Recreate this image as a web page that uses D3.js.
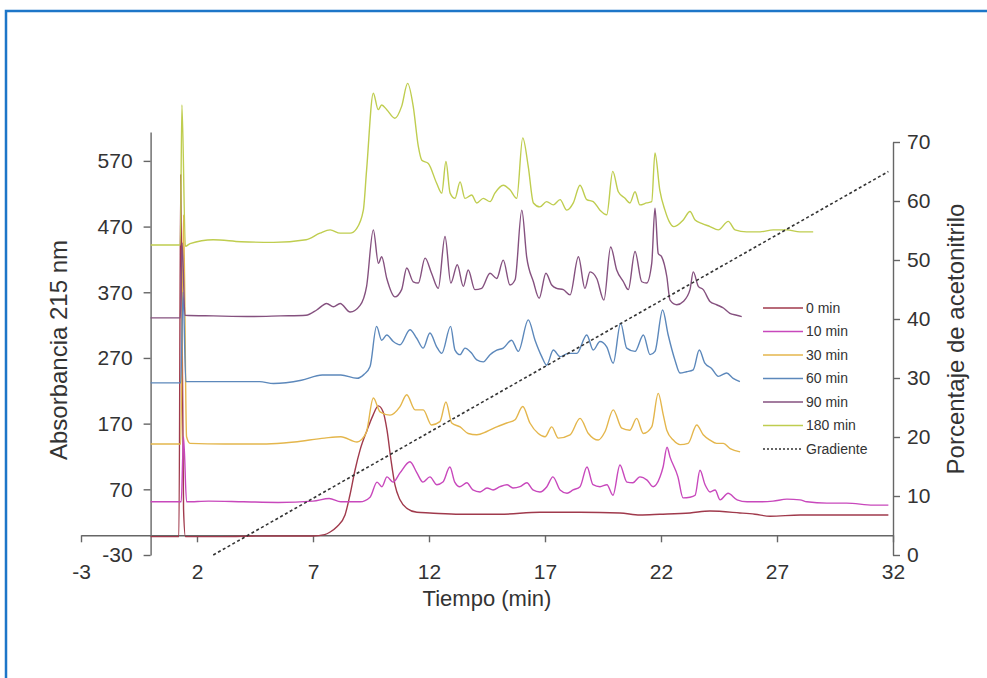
<!DOCTYPE html>
<html>
<head>
<meta charset="utf-8">
<script src="https://cdn.jsdelivr.net/npm/d3@7"></script>
<style>
  body { margin: 0; background: #fff; }
  svg text { font-family: "Liberation Sans", Arial, sans-serif; fill: #333; }
  .axis path, .axis line { stroke: #666; stroke-width: 1.4; }
</style>
</head>
<body>
<div id="chart"></div>
<script>
"use strict";

// tick values
let timeTicks = [-3, 2, 7, 12, 17, 22, 27, 32];
let absTicks = [-30, 70, 170, 270, 370, 470, 570];
let pctTicks = [0, 10, 20, 30, 40, 50, 60, 70];

let seriesNames = ['0 min', '10 min', '30 min', '60 min', '90 min', '180 min'];
let seriesColors = ['#a03a4c', '#c848bc', '#e4b64c', '#5c88bb', '#85517f', '#bfcd4f'];

// chromatograms, [time (min), absorbance]
let trace0 = [[0,-2],[1.22,-2],[1.3,549],[1.42,40],[1.5,-2],[3,-2],[5,-1],[7,-1],[7.5,1],[7.74,5],[8.03,13],[8.38,31],[8.59,61],[8.81,99],[9.03,130],[9.33,160],[9.59,183],[9.81,197],[10.02,188],[10.19,160],[10.36,115],[10.53,77],[10.75,54],[11.05,41],[11.48,35],[12.04,34],[13.33,32],[15.06,32],[16.78,35],[18.51,35],[20.23,34],[21.09,31],[21.95,32],[23.25,34],[24.11,37],[25.4,34],[26.05,32],[26.7,29],[28,31],[29.7,31],[31.8,31]];

let trace10 = [[0,51],[1.32,51],[1.42,150],[1.55,51],[2.5,52],[4,51],[5.5,50],[7,52],[7.7,56],[8.2,51],[9.03,51],[9.46,58],[9.76,81],[9.97,74],[10.19,89],[10.45,81],[10.75,95],[11.18,112],[11.48,95],[11.74,81],[12.04,89],[12.34,77],[12.6,81],[12.9,104],[13.11,81],[13.33,74],[13.63,80],[13.89,69],[14.2,66],[14.5,72],[14.76,69],[15.06,74],[15.36,77],[15.62,72],[15.92,74],[16.22,80],[16.48,69],[16.78,66],[17.08,74],[17.34,89],[17.65,69],[17.95,64],[18.21,69],[18.51,74],[18.81,104],[19.07,77],[19.37,74],[19.67,77],[19.93,61],[20.23,107],[20.53,81],[20.79,80],[21.09,89],[21.4,84],[21.66,74],[21.96,89],[22.09,104],[22.26,134],[22.39,119],[22.73,89],[22.95,57],[23.25,58],[23.47,61],[23.68,99],[23.9,77],[24.12,66],[24.33,69],[24.55,54],[24.89,64],[25.28,54],[25.71,51],[26.27,51],[26.83,52],[27.43,55],[27.99,54],[28.29,51],[29.15,49],[30,49],[31.15,46],[31.8,46]];

let trace30 = [[0,139],[1.3,139],[1.42,488],[1.55,150],[1.7,140],[3.2,139],[5,139],[6.2,142],[7.5,148],[8.2,150],[8.9,142],[9.1,146],[9.31,158],[9.6,209],[9.89,188],[10.32,183],[10.75,196],[11.04,214],[11.4,191],[11.75,191],[12.11,168],[12.47,173],[12.73,203],[12.98,171],[13.34,165],[13.69,155],[14.06,153],[14.49,158],[14.92,165],[15.35,171],[15.71,176],[16.04,196],[16.35,171],[16.71,155],[17,150],[17.29,165],[17.57,148],[18.08,153],[18.51,178],[18.87,155],[19.3,145],[19.59,158],[19.94,191],[20.31,163],[20.66,160],[20.95,178],[21.24,155],[21.6,165],[21.88,216],[22.1,183],[22.25,160],[22.53,145],[22.82,138],[23.17,140],[23.54,168],[23.82,153],[24.11,145],[24.4,140],[24.69,140],[24.98,132],[25.41,127]];

let trace60 = [[0,232],[1.3,232],[1.4,370],[1.52,234],[2.7,234],[4.7,234],[5.3,231],[6.5,236],[7.4,244],[8.2,244],[8.9,239],[9.2,245],[9.46,257],[9.74,318],[9.96,297],[10.18,305],[10.46,295],[10.75,290],[11.18,313],[11.47,300],[11.75,285],[12.04,308],[12.33,287],[12.55,277],[12.93,318],[13.12,282],[13.34,275],[13.55,285],[13.84,277],[14.06,267],[14.34,264],[14.63,275],[14.92,282],[15.2,285],[15.56,297],[15.85,280],[16.28,328],[16.57,297],[16.86,272],[17.07,259],[17.36,282],[17.65,272],[18,277],[18.37,277],[18.8,305],[19.08,282],[19.37,295],[19.66,287],[19.94,262],[20.26,323],[20.52,285],[20.88,280],[21.24,305],[21.53,275],[21.74,280],[22.07,343],[22.31,305],[22.6,267],[22.82,247],[23.1,249],[23.39,252],[23.65,282],[23.89,262],[24.18,254],[24.47,242],[24.83,247],[25.11,239],[25.4,234]];

let trace90 = [[0,331],[1.28,331],[1.36,445],[1.48,335],[2.7,334],[4.4,333],[5.6,334],[6.7,335],[7.16,343],[7.59,353],[7.88,348],[8.17,353],[8.6,340],[9.03,350],[9.31,379],[9.6,465],[9.82,414],[9.96,424],[10.18,391],[10.53,363],[10.82,374],[11.04,407],[11.32,386],[11.54,384],[11.83,422],[12.11,399],[12.4,376],[12.69,455],[12.94,384],[13.22,412],[13.48,379],[13.69,404],[13.98,374],[14.27,376],[14.63,399],[14.92,391],[15.2,419],[15.49,381],[15.71,389],[16,495],[16.21,424],[16.5,386],[16.75,361],[17.04,399],[17.29,381],[17.5,376],[17.79,374],[18.08,366],[18.44,424],[18.72,376],[18.94,401],[19.23,391],[19.54,358],[19.83,439],[20.09,404],[20.38,386],[20.59,374],[20.88,432],[21.17,386],[21.38,384],[21.6,414],[21.74,498],[21.88,429],[22.03,424],[22.25,394],[22.39,358],[22.68,351],[22.96,356],[23.25,374],[23.39,401],[23.61,379],[23.82,374],[24.11,356],[24.4,351],[24.69,346],[24.97,338],[25.26,335],[25.48,333]];

let trace180 = [[0,442],[1.28,442],[1.35,655],[1.5,440],[1.7,444],[2.7,450],[3.9,447],[5.3,446],[6.7,450],[7.3,460],[7.74,465],[8.17,460],[8.6,460],[8.88,467],[9.17,495],[9.31,556],[9.6,673],[9.81,648],[9.96,655],[10.18,648],[10.53,635],[10.82,653],[11.08,688],[11.32,653],[11.54,592],[11.69,571],[11.97,566],[12.33,536],[12.55,521],[12.73,569],[12.91,521],[13.12,513],[13.34,538],[13.55,513],[13.84,518],[14.06,506],[14.34,513],[14.63,508],[14.84,521],[15.2,533],[15.49,526],[15.78,513],[16.04,605],[16.28,561],[16.5,506],[16.78,500],[17.07,508],[17.36,503],[17.65,511],[17.94,495],[18.22,506],[18.51,533],[18.8,511],[19.08,508],[19.37,495],[19.66,488],[19.92,554],[20.16,523],[20.45,513],[20.66,506],[20.88,523],[21.09,503],[21.38,506],[21.6,508],[21.74,582],[21.95,525],[22.17,495],[22.35,478],[22.55,470],[22.7,472],[22.96,480],[23.25,493],[23.47,480],[23.75,475],[24.11,470],[24.47,465],[24.9,478],[25.19,465],[25.69,462],[26.27,462],[26.84,465],[27.42,465],[27.99,462],[28.56,462]];

let traces = [trace0, trace10, trace30, trace60, trace90, trace180];

// acetonitrile gradient, [time (min), %]
let gradient = [[2.7, 0], [31.8, 65]];

(function () {
  let width = 987;
  let height = 678;

  let svg = d3.select('#chart').append('svg')
    .attr('width', width)
    .attr('height', height);

  // blue frame round the figure (only top and left edges are in view)
  svg.append('rect')
    .attr('x', 6)
    .attr('y', 11)
    .attr('width', 1000)
    .attr('height', 700)
    .attr('fill', 'none')
    .attr('stroke', '#1d76c8')
    .attr('stroke-width', 2.5);

  let x = d3.scaleLinear().domain([-3, 32]).range([81, 893]);
  let yAbs = d3.scaleLinear().domain([-30, 614]).range([555, 132]);
  let yPct = d3.scaleLinear().domain([0, 70]).range([555, 142]);

  // plain hyphen for negatives, like the original
  let fmt = function (d) { return String(d); };

  // axes
  let xAxis = d3.axisBottom(x).tickValues(timeTicks).tickFormat(fmt)
    .tickSizeInner(7).tickSizeOuter(0).tickPadding(22);
  let leftAxis = d3.axisLeft(yAbs).tickValues(absTicks).tickFormat(fmt)
    .tickSizeInner(7).tickSizeOuter(0).tickPadding(11);
  let rightAxis = d3.axisRight(yPct).tickValues(pctTicks).tickFormat(fmt)
    .tickSizeInner(7).tickSizeOuter(0).tickPadding(7);

  svg.append('g')
    .attr('class', 'axis')
    .attr('transform', 'translate(0,' + yAbs(0) + ')')
    .call(xAxis);

  svg.append('g')
    .attr('class', 'axis')
    .attr('transform', 'translate(' + x(0) + ',0)')
    .call(leftAxis);

  svg.append('g')
    .attr('class', 'axis')
    .attr('transform', 'translate(' + x(32) + ',0)')
    .call(rightAxis);

  svg.selectAll('.axis text')
    .attr('font-size', 21)
    .attr('fill', '#333')
    .style('font-family', '"Liberation Sans", Arial, sans-serif');

  // traces
  let line = d3.line()
    .curve(d3.curveMonotoneX)
    .x(function (d) { return x(d[0]); })
    .y(function (d) { return yAbs(d[1]); });

  svg.selectAll('path.trace')
    .data(traces)
    .enter()
    .append('path')
    .attr('class', 'trace')
    .attr('d', line)
    .attr('fill', 'none')
    .attr('stroke', function (d, i) { return seriesColors[i]; })
    .attr('stroke-width', 1.4)
    .attr('stroke-linejoin', 'round');

  let gradLine = d3.line()
    .x(function (d) { return x(d[0]); })
    .y(function (d) { return yPct(d[1]); });

  svg.append('path')
    .datum(gradient)
    .attr('d', gradLine)
    .attr('fill', 'none')
    .attr('stroke', '#333')
    .attr('stroke-width', 1.6)
    .attr('stroke-dasharray', '3,2.5');

  // axis titles
  svg.append('text')
    .text('Absorbancia 215 nm')
    .attr('transform', 'translate(58,350) rotate(-90)')
    .attr('text-anchor', 'middle')
    .attr('dominant-baseline', 'central')
    .attr('font-size', 24);

  svg.append('text')
    .text('Porcentaje de acetonitrilo')
    .attr('transform', 'translate(955,339) rotate(-90)')
    .attr('text-anchor', 'middle')
    .attr('dominant-baseline', 'central')
    .attr('font-size', 24);

  svg.append('text')
    .text('Tiempo (min)')
    .attr('x', 487)
    .attr('y', 606)
    .attr('text-anchor', 'middle')
    .attr('font-size', 22);

  // legend
  let legendItems = seriesNames.map(function (n, i) {
    return { name: n, color: seriesColors[i], dash: null };
  });
  legendItems.push({ name: 'Gradiente', color: '#333', dash: '2,2' });

  let legend = svg.append('g')
    .attr('transform', 'translate(763,308)');

  let rows = legend.selectAll('g.row')
    .data(legendItems)
    .enter()
    .append('g')
    .attr('class', 'row')
    .attr('transform', function (d, i) { return 'translate(0,' + i * 23.5 + ')'; });

  rows.append('line')
    .attr('x1', 0)
    .attr('x2', 40)
    .attr('stroke', function (d) { return d.color; })
    .attr('stroke-width', 1.4)
    .attr('stroke-dasharray', function (d) { return d.dash; });

  rows.append('text')
    .text(function (d) { return d.name; })
    .attr('x', 43)
    .attr('dy', '0.35em')
    .attr('font-size', 14)
    .attr('fill', '#444');
})();
</script>
</body>
</html>
